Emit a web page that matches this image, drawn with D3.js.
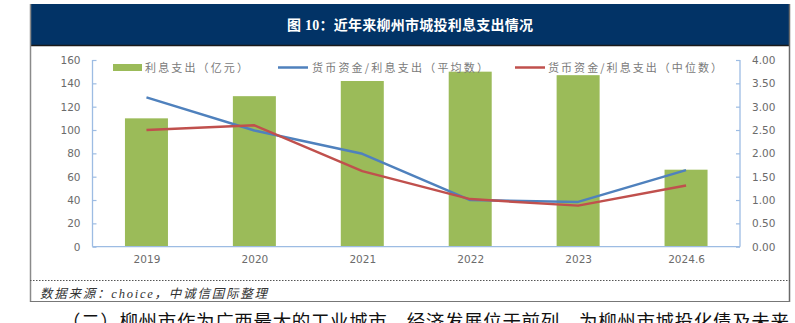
<!DOCTYPE html>
<html>
<head>
<meta charset="utf-8">
<script src="https://cdn.jsdelivr.net/npm/d3@7"></script>
<style>
html,body{margin:0;padding:0;background:#fff;overflow:hidden;}
svg{display:block;}
</style>
</head>
<body>
<script>
const categories = ["2019","2020","2021","2022","2023","2024.6"];
const interestExpense = [110,129,142,150,147,66];
const meanRatio = [3.20,2.49,1.99,1.00,0.96,1.64];
const medianRatio = [2.50,2.60,1.62,1.02,0.88,1.31];
const leftTicks = [0,20,40,60,80,100,120,140,160];
const rightTicks = [0,0.5,1,1.5,2,2.5,3,3.5,4];
const seriesNames = ["利息支出（亿元）","货币资金/利息支出（平均数）","货币资金/利息支出（中位数）"];
const titleText = "图 10：近年来柳州市城投利息支出情况";
const sourceText = "数据来源：choice，中诚信国际整理";
const bodyText = "（二）柳州市作为广西最大的工业城市，经济发展位于前列，为柳州市城投化债及未来";

const W = 795, H = 323;
const svg = d3.select("body").append("svg").attr("width", W).attr("height", H);

const cjk = "'Noto Sans CJK SC', 'DejaVu Sans', sans-serif";
const green = "#9BBB59", blue = "#4F81BD", red = "#C0504D", axisC = "#9DBCE3", txtC = "#6b6b6b";

// Outer frame
svg.append("rect").attr("x",30).attr("y",4).attr("width",760).attr("height",41).attr("fill","#023366");
svg.append("line").attr("x1",30).attr("x2",790).attr("y1",45.5).attr("y2",45.5).attr("stroke","#1a1a1a").attr("stroke-width",1.5);
svg.append("line").attr("x1",30.5).attr("x2",30.5).attr("y1",4).attr("y2",302).attr("stroke","#8a8a8a").attr("stroke-width",1.5);
svg.append("line").attr("x1",789.5).attr("x2",789.5).attr("y1",4).attr("y2",302).attr("stroke","#6a6a6a").attr("stroke-width",1.5);
svg.append("line").attr("x1",30).attr("x2",790).attr("y1",301.5).attr("y2",301.5).attr("stroke","#777").attr("stroke-width",1.2);
svg.append("line").attr("x1",30).attr("x2",790).attr("y1",280.5).attr("y2",280.5).attr("stroke","#555").attr("stroke-width",1).attr("stroke-dasharray","1.5,1.5");

svg.append("text").attr("x",410).attr("y",30).attr("text-anchor","middle")
  .attr("fill","#fff").attr("font-weight","bold").attr("font-size",14)
  .attr("font-family","'Liberation Serif', " + cjk)
  .attr("textLength",246).attr("lengthAdjust","spacing")
  .text(titleText);

// Chart scales
const x = d3.scaleBand().domain(categories).range([92.5,740]).paddingInner(0.6).paddingOuter(0.3);
const xc = d3.scalePoint().domain(categories).range([92.5,740]).padding(0.5);
const yL = d3.scaleLinear().domain([0,160]).range([246.7,60]);
const yR = d3.scaleLinear().domain([0,4]).range([246.7,60]);

// Bars
svg.append("g").selectAll("rect").data(categories).join("rect")
  .attr("x", d => xc(d) - 21.5).attr("width", 43)
  .attr("y", (d,i) => yL(interestExpense[i]))
  .attr("height", (d,i) => yL(0) - yL(interestExpense[i]))
  .attr("fill", green);

// Axes
const gl = svg.append("g").attr("transform","translate(92.5,0)")
  .call(d3.axisLeft(yL).tickValues(leftTicks).tickSize(-4).tickPadding(12).tickFormat(d3.format("d")));
const gr = svg.append("g").attr("transform","translate(740,0)")
  .call(d3.axisRight(yR).tickValues(rightTicks).tickSize(-4).tickPadding(12).tickFormat(d3.format(".2f")));
const gx = svg.append("g").attr("transform","translate(0,246.7)")
  .call(d3.axisBottom(xc).tickSize(0).tickPadding(9));
[gl,gr,gx].forEach(g => {
  g.selectAll(".domain").attr("stroke",axisC).attr("stroke-width",1.3);
  g.selectAll(".tick line").attr("stroke",axisC).attr("stroke-width",1.2);
  g.selectAll("text").attr("fill",txtC).attr("font-size",10.5).attr("font-family","'DejaVu Sans', sans-serif");
});
gl.select(".domain").attr("d","M0,246.7V60");
gr.select(".domain").attr("d","M0,246.7V60");
gx.select(".domain").attr("d","M92.5,0H740");

// Lines
const lineGen = d3.line().x((d,i) => xc(categories[i])).y(d => yR(d));
svg.append("path").datum(meanRatio).attr("d", lineGen).attr("fill","none").attr("stroke",blue).attr("stroke-width",2.5).attr("stroke-linejoin","round");
svg.append("path").datum(medianRatio).attr("d", lineGen).attr("fill","none").attr("stroke",red).attr("stroke-width",2.5).attr("stroke-linejoin","round");

// Legend
const lg = svg.append("g");
lg.append("rect").attr("x",113).attr("y",64).attr("width",29).attr("height",7).attr("fill",green);
lg.append("text").attr("x",145).attr("y",71.5).text(seriesNames[0]).attr("textLength",103);
lg.append("line").attr("x1",278).attr("x2",308).attr("y1",67.5).attr("y2",67.5).attr("stroke",blue).attr("stroke-width",2.5);
lg.append("text").attr("x",312).attr("y",71.5).text(seriesNames[1]).attr("textLength",176);
lg.append("line").attr("x1",515).attr("x2",545).attr("y1",67.5).attr("y2",67.5).attr("stroke",red).attr("stroke-width",2.5);
lg.append("text").attr("x",548).attr("y",71.5).text(seriesNames[2]).attr("textLength",174);
lg.selectAll("text").attr("font-size",11).attr("fill","#7a7a7a").attr("font-family",cjk).attr("lengthAdjust","spacing");

// Source
svg.append("text").attr("x",40).attr("y",297.5).text(sourceText)
  .attr("font-size",12.5).attr("font-style","italic").attr("fill","#333")
  .attr("font-family","'Liberation Serif', " + cjk)
  .attr("textLength",227).attr("lengthAdjust","spacing");

// Body text (cut off)
svg.append("text").attr("x",62).attr("y",328).text(bodyText)
  .attr("font-size",18.5).attr("fill","#111").attr("font-family",cjk)
  .attr("textLength",727).attr("lengthAdjust","spacing");
</script>
</body>
</html>
